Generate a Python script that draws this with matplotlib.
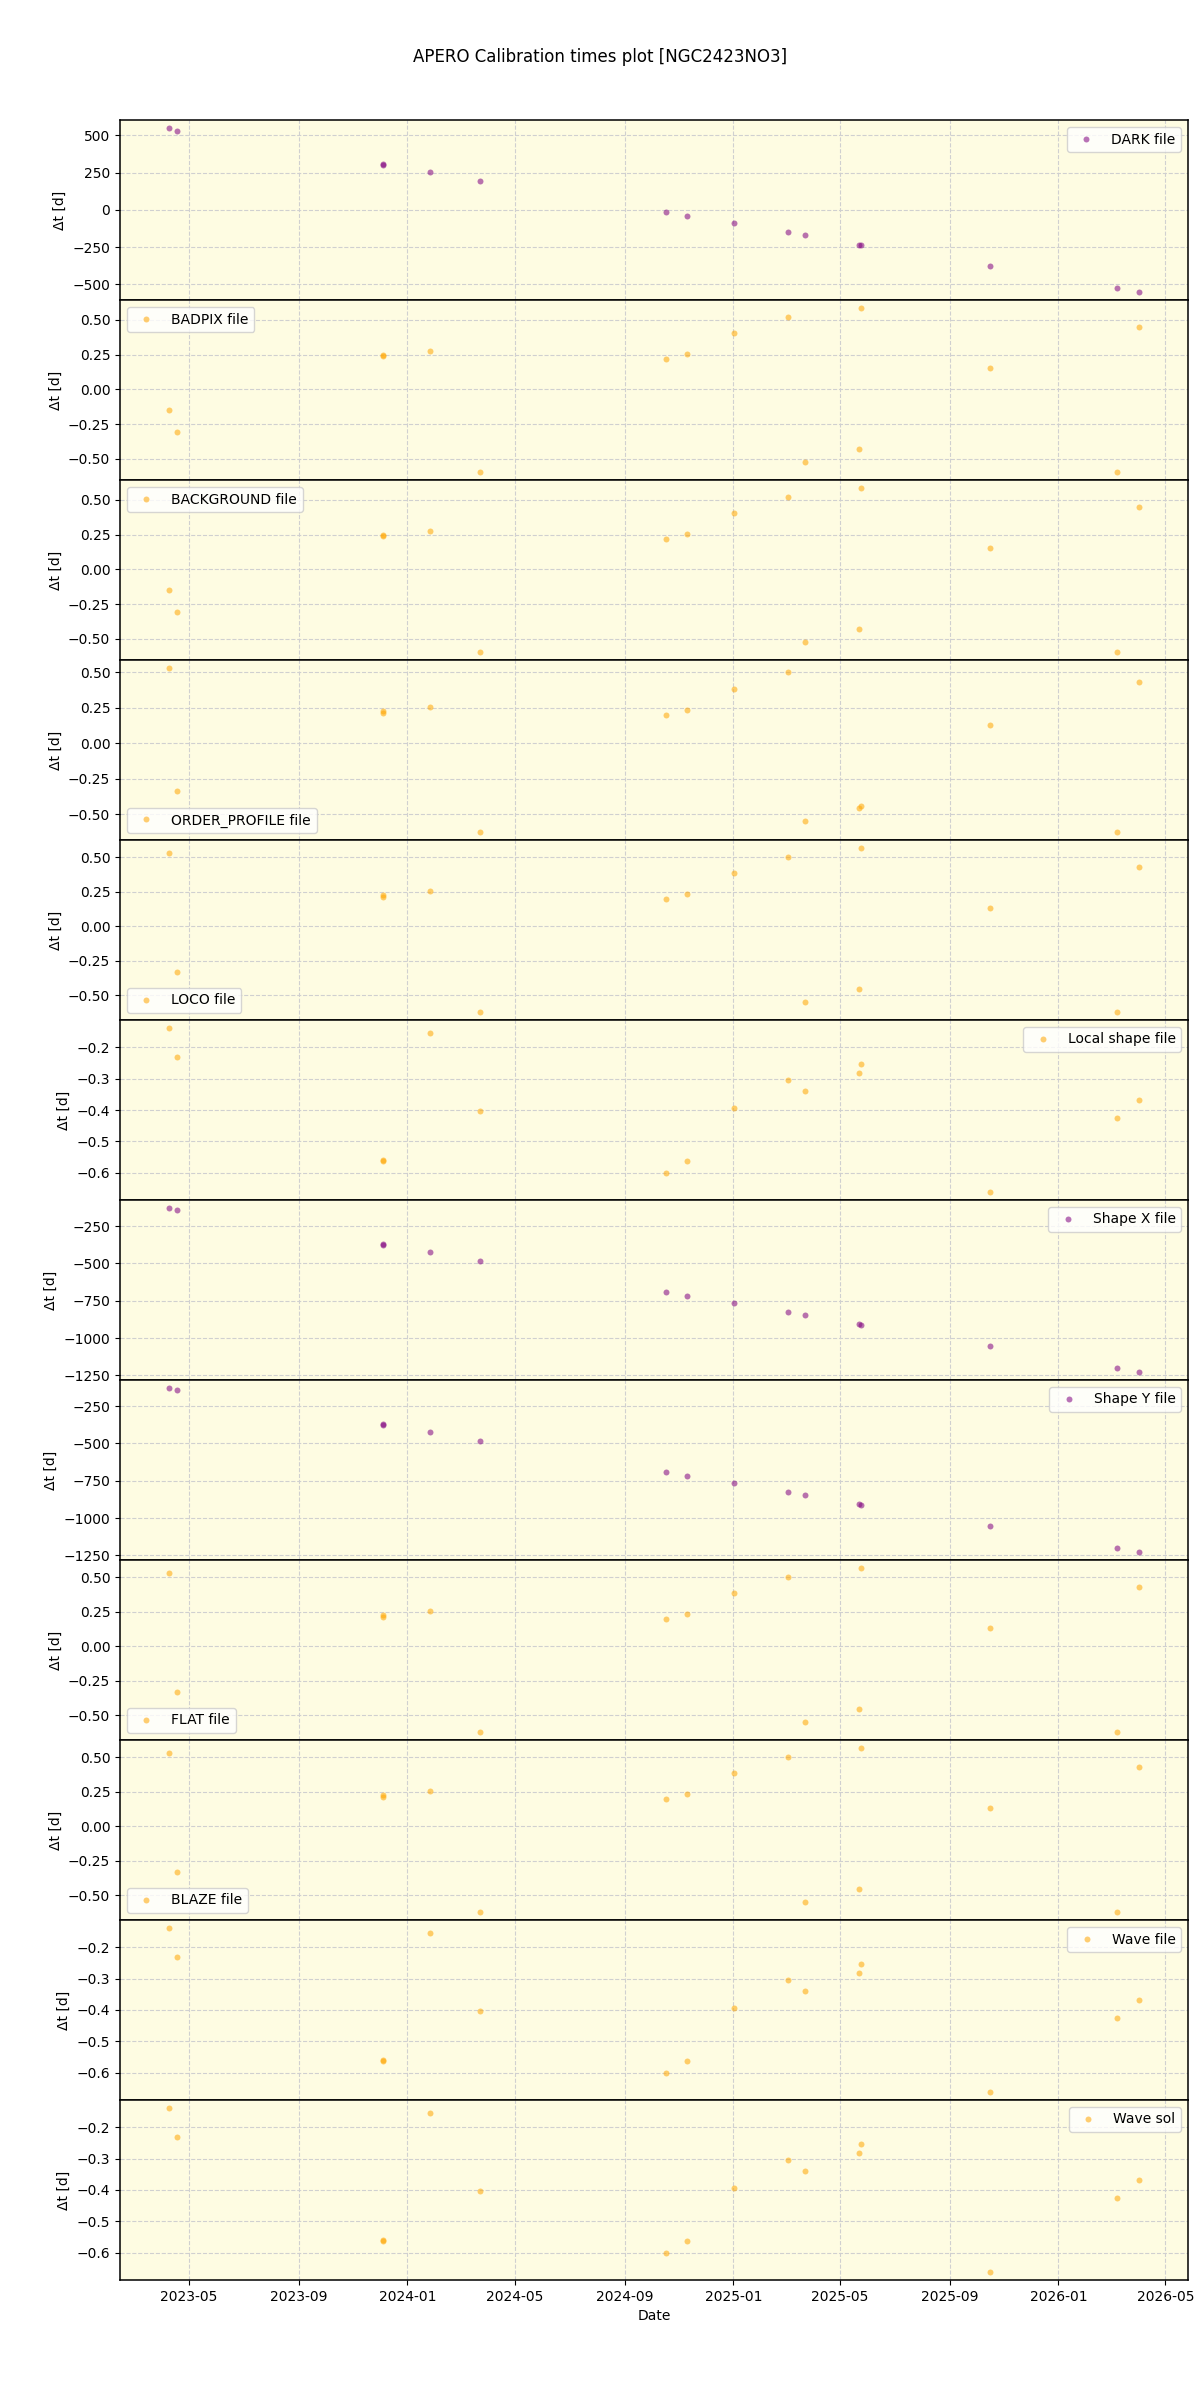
import matplotlib
matplotlib.use('Agg')
import matplotlib.pyplot as plt
import pandas as pd

# observation dates (same for every calibration type)
dates = ['2023-04-08', '2023-04-17', '2023-12-05', '2023-12-05', '2024-01-27',
         '2024-03-23', '2024-10-17', '2024-11-10', '2025-01-02', '2025-03-03',
         '2025-03-23', '2025-05-22', '2025-05-24', '2025-10-16', '2026-03-08',
         '2026-04-02']

dark_dt = [549, 533, 306, 302, 253, 193, -16, -42, -89, -149, -169, -233, -235,
           -376, -523, -550]
badpix_dt = [-0.146, -0.304, 0.250, 0.240, 0.279, -0.593, 0.218, 0.256, 0.406,
             0.519, -0.521, -0.428, 0.584, 0.155, -0.593, 0.447]
background_dt = [-0.146, -0.304, 0.250, 0.240, 0.279, -0.593, 0.218, 0.256, 0.406,
                 0.519, -0.521, -0.428, 0.584, 0.155, -0.593, 0.447]
order_profile_dt = [0.528, -0.336, 0.224, 0.214, 0.255, -0.623, 0.199, 0.231, 0.382,
                    0.500, -0.550, -0.456, -0.442, 0.128, -0.623, 0.430]
loco_dt = [0.529, -0.333, 0.225, 0.212, 0.253, -0.621, 0.196, 0.231, 0.384,
           0.500, -0.549, -0.453, 0.565, 0.130, -0.621, 0.428]
local_shape_dt = [-0.140, -0.232, -0.558, -0.562, -0.156, -0.403, -0.600, -0.562,
                  -0.394, -0.306, -0.341, -0.281, -0.255, -0.660, -0.427, -0.367]
shape_x_dt = [-130, -143, -370, -374, -424, -484, -691, -718, -765, -825, -845,
              -909, -911, -1052, -1199, -1226]
shape_y_dt = [-130, -143, -370, -374, -424, -484, -691, -718, -765, -825, -845,
              -909, -911, -1052, -1199, -1226]
flat_dt = [0.529, -0.333, 0.225, 0.212, 0.253, -0.621, 0.196, 0.231, 0.384,
           0.500, -0.549, -0.453, 0.565, 0.130, -0.621, 0.428]
blaze_dt = [0.529, -0.333, 0.225, 0.212, 0.253, -0.621, 0.196, 0.231, 0.384,
            0.500, -0.549, -0.453, 0.565, 0.130, -0.621, 0.428]
wave_dt = [-0.140, -0.232, -0.558, -0.562, -0.156, -0.403, -0.600, -0.562,
           -0.394, -0.306, -0.341, -0.281, -0.255, -0.660, -0.427, -0.367]
wave_sol_dt = [-0.140, -0.232, -0.558, -0.562, -0.156, -0.403, -0.600, -0.562,
               -0.394, -0.306, -0.341, -0.281, -0.255, -0.660, -0.427, -0.367]

labels = ['DARK file', 'BADPIX file', 'BACKGROUND file', 'ORDER_PROFILE file',
          'LOCO file', 'Local shape file', 'Shape X file', 'Shape Y file',
          'FLAT file', 'BLAZE file', 'Wave file', 'Wave sol']
series = [dark_dt, badpix_dt, background_dt, order_profile_dt, loco_dt,
          local_shape_dt, shape_x_dt, shape_y_dt, flat_dt, blaze_dt, wave_dt,
          wave_sol_dt]
colors = ['purple', 'orange', 'orange', 'orange', 'orange', 'orange', 'purple',
          'purple', 'orange', 'orange', 'orange', 'orange']
legend_loc = ['upper right', 'upper left', 'upper left', 'lower left', 'lower left',
              'upper right', 'upper right', 'upper right', 'lower left',
              'lower left', 'upper right', 'upper right']

x = pd.to_datetime(dates)

fig, axes = plt.subplots(12, 1, figsize=(12, 24), dpi=100, sharex=True)
fig.subplots_adjust(left=0.1, right=0.99, top=0.95, bottom=0.05, hspace=0)
fig.suptitle('APERO Calibration times plot [NGC2423NO3]', y=0.98)

for i in range(12):
    ax = axes[i]
    ax.set_facecolor('#fefce2')
    ax.plot(x, series[i], 'o', ms=4.3, color=colors[i], alpha=0.55,
            markeredgewidth=0, label=labels[i])
    ax.set_ylabel('Δt [d]')
    ax.grid(True, linestyle='--', color='#d0d0d0')
    for sp in ax.spines.values():
        sp.set_linewidth(1.1)
    ax.legend(loc=legend_loc[i])

axes[-1].set_xlabel('Date')

plt.savefig('out.png')
